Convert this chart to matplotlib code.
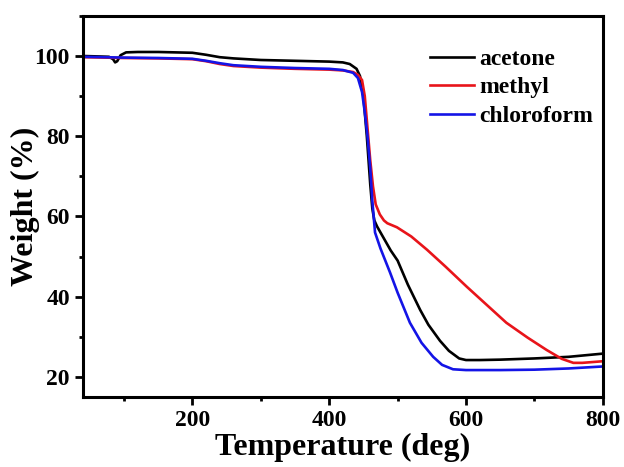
import matplotlib
matplotlib.use('Agg')
import matplotlib.pyplot as plt
from matplotlib.ticker import MultipleLocator

# datos (TGA)
T_acetone = [40, 60, 78, 84, 87, 90, 95, 103, 120, 150, 200, 220, 240, 260, 300, 350, 400, 420,
             430, 440, 445, 450, 455, 460, 463, 466, 470, 480, 490, 500, 515, 533, 545, 562,
             575, 590, 600, 620, 650, 700, 750, 800]
W_acetone = [100, 99.9, 99.8, 99.2, 98.4, 98.7, 100.2, 100.9, 101.0, 101.0, 100.8, 100.3, 99.7,
             99.4, 99.0, 98.8, 98.6, 98.4, 98.0, 96.8, 95.0, 90.0, 80.0, 68.0, 62.0, 59.0, 57.5,
             54.5, 51.5, 49.0, 43.0, 36.7, 33.0, 29.0, 26.5, 24.6, 24.2, 24.2, 24.3, 24.6, 25.0, 25.8]

T_methyl = [40, 100, 150, 200, 220, 240, 260, 300, 350, 400, 420, 435, 442, 448, 452, 456, 460,
            464, 468, 474, 480, 485, 499, 520, 543, 570, 601, 630, 659, 690, 718, 740, 757, 770, 800]
W_methyl = [99.7, 99.5, 99.4, 99.2, 98.7, 98.0, 97.5, 97.1, 96.8, 96.6, 96.4, 96.0, 95.3, 94.0,
            90.0, 82.0, 74.0, 67.5, 63.0, 60.5, 59.0, 58.3, 57.3, 55.0, 51.7, 47.5, 42.5, 38.0,
            33.5, 29.8, 26.7, 24.5, 23.5, 23.5, 23.9]

T_chloro = [40, 100, 150, 200, 220, 240, 260, 300, 350, 400, 420, 435, 442, 448, 452, 456, 460,
            463, 467, 475, 489, 500, 518, 535, 552, 565, 581, 600, 650, 700, 750, 800]
W_chloro = [99.8, 99.6, 99.5, 99.3, 98.8, 98.2, 97.7, 97.3, 97.0, 96.8, 96.5, 95.8, 94.5, 91.0,
            86.0, 80.0, 72.0, 64.0, 56.0, 52.0, 46.0, 41.0, 33.5, 28.5, 25.0, 23.0, 21.9, 21.7,
            21.7, 21.8, 22.1, 22.6]

plt.rcParams['font.family'] = 'Liberation Serif'
plt.rcParams['font.weight'] = 'bold'

fig = plt.figure(figsize=(6.24, 4.67), dpi=100)
ax = fig.add_axes([0.133, 0.15, 0.833, 0.816])

ax.plot(T_acetone, W_acetone, color='black', lw=1.9, label='acetone')
ax.plot(T_methyl, W_methyl, color='#e8141a', lw=1.9, label='methyl')
ax.plot(T_chloro, W_chloro, color='#1414e6', lw=1.9, label='chloroform')

ax.set_xlim(40, 800)
ax.set_ylim(15, 110)
ax.xaxis.set_major_locator(MultipleLocator(200))
ax.xaxis.set_minor_locator(MultipleLocator(100))
ax.yaxis.set_major_locator(MultipleLocator(20))
ax.yaxis.set_minor_locator(MultipleLocator(10))
ax.tick_params(which='major', length=6, width=2, labelsize=17, direction='out')
ax.tick_params(which='minor', length=3, width=2, direction='out')
for s in ax.spines.values():
    s.set_linewidth(2.2)

ax.set_xlabel('Temperature (deg)', fontsize=23, fontweight='bold', labelpad=1)
ax.set_ylabel('Weight (%)', fontsize=23, fontweight='bold', labelpad=-4)

leg = ax.legend(loc='upper left', frameon=False, fontsize=17, handlelength=1.86,
                handletextpad=0.25, labelspacing=0.3, borderpad=0, borderaxespad=0,
                bbox_to_anchor=(0.667, 0.915))

plt.savefig('out.png', dpi=100)
plt.close('all')
